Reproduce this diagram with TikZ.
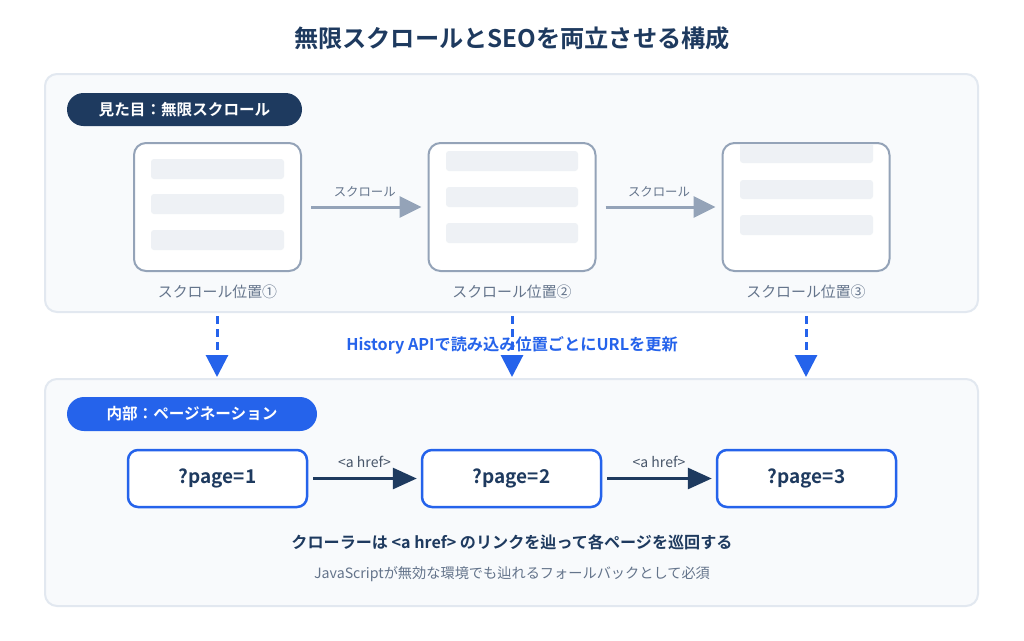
\documentclass[tikz,border=0pt]{standalone}
\usepackage{fontspec}
\setmainfont{Noto Sans CJK JP}[BoldFont={Noto Sans CJK JP Bold}]
\usetikzlibrary{arrows.meta}
\definecolor{navy}{HTML}{1E3A5F}
\definecolor{blu}{HTML}{2563EB}
\definecolor{gstroke}{HTML}{94A3B8}
\definecolor{barfill}{HTML}{EEF1F5}
\definecolor{panelfill}{HTML}{F8FAFC}
\definecolor{panelstroke}{HTML}{E2E8F0}
\definecolor{tgray}{HTML}{64748B}
\definecolor{tdark}{HTML}{475569}
\tikzset{
  panel/.style={draw=panelstroke, fill=panelfill, line width=2pt, rounded corners=12pt},
  pill/.style={text=white, font=\bfseries\fontsize{15.6}{18}\selectfont},
  screen/.style={draw=gstroke, fill=white, line width=2pt, rounded corners=12pt, minimum width=167pt, minimum height=128pt, inner sep=0pt},
  bar/.style={fill=barfill, rounded corners=3pt},
  poslabel/.style={text=tgray, font=\fontsize{14.9}{17}\selectfont},
  scrarrow/.style={draw=gstroke, line width=3pt, -{Triangle[length=22pt,width=21pt]}},
  scrlabel/.style={text=tgray, font=\fontsize{12.4}{15}\selectfont},
  dasharrow/.style={draw=blu, line width=3pt, dash pattern=on 8pt off 5pt, -{Triangle[length=22pt,width=22pt]}},
  pagebox/.style={draw=blu, fill=white, line width=2.5pt, rounded corners=10pt, minimum width=179pt, minimum height=57pt, text=navy, font=\bfseries\fontsize{19}{22}\selectfont},
  linkarrow/.style={draw=navy, line width=3pt, -{Triangle[length=24pt,width=21pt]}},
  linklabel/.style={text=tdark, font=\fontsize{14}{16}\selectfont, fill=panelfill, inner sep=1pt}
}
\begin{document}
\begin{tikzpicture}[x=1pt,y=-1pt]
\useasboundingbox (0,0) rectangle (1024,640);
\fill[white] (0,0) rectangle (1024,640);
% title
\node[text=navy, font=\bfseries\fontsize{24.2}{28}\selectfont] (title) at (512,38) {無限スクロールとSEOを両立させる構成};
% panels
\draw[panel] (45,74) rectangle (978,312);
\draw[panel] (45,379) rectangle (978,606);
% pills
\fill[navy, rounded corners=16.5pt] (67,93) rectangle (302,126);
\node[pill] (pill1) at (184.5,109.5) {見た目：無限スクロール};
\fill[blu, rounded corners=17pt] (67,397) rectangle (317,431);
\node[pill] (pill2) at (192,414) {内部：ページネーション};
% screens
\node[screen] (s1) at (217.5,207) {};
\node[screen] (s2) at (512,207) {};
\node[screen] (s3) at (806,207) {};
\fill[bar] (151,159) rectangle (284,179);
\fill[bar] (151,194) rectangle (284,214);
\fill[bar] (151,230) rectangle (284,250);
\fill[bar] (446,151) rectangle (578,171);
\fill[bar] (446,187) rectangle (578,207);
\fill[bar] (446,223) rectangle (578,243);
\begin{scope}
\clip (723,144) rectangle (889,270);
\fill[bar] (740,138) rectangle (873,163);
\end{scope}
\fill[bar] (740,180) rectangle (873,199);
\fill[bar] (740,215) rectangle (873,235);
% position labels
\node[poslabel] (l1) at (217.5,292) {スクロール位置①};
\node[poslabel] (l2) at (512,292) {スクロール位置②};
\node[poslabel] (l3) at (806,292) {スクロール位置③};
% scroll arrows
\draw[scrarrow, shorten <=9pt, shorten >=6pt] (s1) -- node[scrlabel, above=5pt] (sl1) {スクロール} (s2);
\draw[scrarrow, shorten <=9pt, shorten >=6pt] (s2) -- node[scrlabel, above=5pt] (sl2) {スクロール} (s3);
% dashed arrows
\coordinate (d1s) at (217,316); \coordinate (d1e) at (217,377);
\coordinate (d2s) at (512,316); \coordinate (d2e) at (512,377);
\coordinate (d3s) at (806,316); \coordinate (d3e) at (806,377);
\draw[dasharrow] (d1s) -- (d1e);
\draw[dasharrow] (d2s) -- (d2e);
\draw[dasharrow] (d3s) -- (d3e);
\node[text=blu, font=\bfseries\fontsize{16.2}{19}\selectfont] (hist) at (512,345) {History APIで読み込み位置ごとにURLを更新};
% page boxes
\node[pagebox] (p1) at (217.5,478.5) {?page=1};
\node[pagebox] (p2) at (511.5,478.5) {?page=2};
\node[pagebox] (p3) at (806.5,478.5) {?page=3};
\draw[linkarrow, shorten <=5pt, shorten >=4pt] (p1) -- node[linklabel, above=8pt] (al1) {<a href>} (p2);
\draw[linkarrow, shorten <=5pt, shorten >=4pt] (p2) -- node[linklabel, above=8pt] (al2) {<a href>} (p3);
% notes
\node[text=navy, font=\bfseries\fontsize{16.1}{19}\selectfont] (crawl) at (512,542) {クローラーは <a href> のリンクを辿って各ページを巡回する};
\node[text=tgray, font=\fontsize{14.2}{17}\selectfont] (js) at (512,574) {JavaScriptが無効な環境でも辿れるフォールバックとして必須};
\end{tikzpicture}
\end{document}
